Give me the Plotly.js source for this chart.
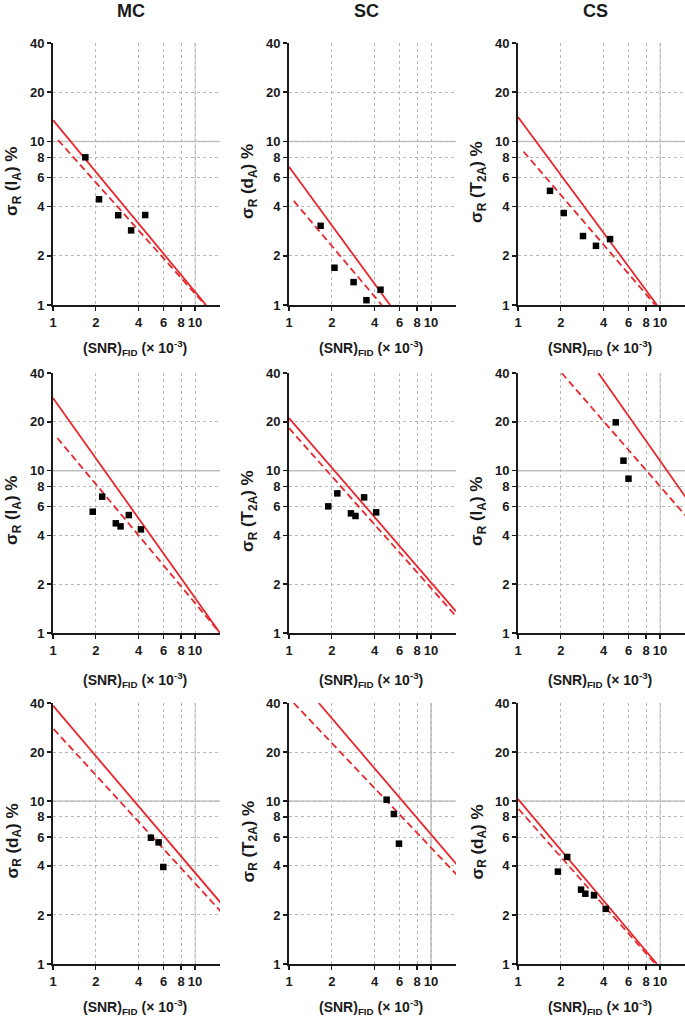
<!DOCTYPE html>
<html>
<head>
<meta charset="utf-8">
<script src="https://cdn.plot.ly/plotly-3.0.1.min.js"></script>
<style>
html,body{margin:0;padding:0;background:#fff;}
#chart{width:685px;height:1016px;}
</style>
</head>
<body>
<div id="chart"></div>
<script>
// ---------- DATA ----------
const colTitles = ["MC", "SC", "CS"];
const xTickVals = [1, 2, 4, 6, 8, 10];
const yTickVals = [1, 2, 4, 6, 8, 10, 20, 40];
const xTitleText = "(SNR)<sub>FID</sub> (× 10<sup>-3</sup>)";

// Row 1
const r1MC_label = "σ<sub>R</sub> (I<sub>A</sub>) %";
const r1MC_snr = [1.69, 2.11, 2.88, 3.55, 4.46];
const r1MC_sigma = [8.0, 4.43, 3.54, 2.86, 3.55];
const r1MC_solidSnr = [1.0, 11.96];
const r1MC_solidSigma = [13.5, 1.0];
const r1MC_dashSnr = [1.085, 11.8];
const r1MC_dashSigma = [10.2, 1.0];

const r1SC_label = "σ<sub>R</sub> (d<sub>A</sub>) %";
const r1SC_snr = [1.67, 2.09, 2.85, 3.51, 4.41];
const r1SC_sigma = [3.05, 1.69, 1.38, 1.07, 1.24];
const r1SC_solidSnr = [1.0, 5.15];
const r1SC_solidSigma = [7.0, 1.0];
const r1SC_dashSnr = [1.08, 4.5];
const r1SC_dashSigma = [4.33, 1.0];

const r1CS_label = "σ<sub>R</sub> (T<sub>2A</sub>) %";
const r1CS_snr = [1.68, 2.10, 2.87, 3.54, 4.45];
const r1CS_sigma = [4.99, 3.65, 2.64, 2.30, 2.53];
const r1CS_solidSnr = [1.0, 9.52];
const r1CS_solidSigma = [14.1, 1.0];
const r1CS_dashSnr = [1.097, 9.27];
const r1CS_dashSigma = [8.66, 1.0];

// Row 2
const r2MC_label = "σ<sub>R</sub> (I<sub>A</sub>) %";
const r2MC_snr = [1.905, 2.22, 2.77, 2.99, 3.42, 4.16];
const r2MC_sigma = [5.59, 6.92, 4.74, 4.54, 5.33, 4.35];
const r2MC_solidSnr = [1.0, 15.0];
const r2MC_solidSigma = [28.05, 1.0];
const r2MC_dashSnr = [1.073, 15.0];
const r2MC_dashSigma = [15.9, 1.0];

const r2SC_label = "σ<sub>R</sub> (T<sub>2A</sub>) %";
const r2SC_snr = [1.89, 2.19, 2.73, 2.94, 3.38, 4.11];
const r2SC_sigma = [6.03, 7.25, 5.46, 5.26, 6.85, 5.54];
const r2SC_solidSnr = [1.0, 15.0];
const r2SC_solidSigma = [21.1, 1.36];
const r2SC_dashSnr = [1.0, 15.0];
const r2SC_dashSigma = [18.3, 1.27];

const r2CS_label = "σ<sub>R</sub> (I<sub>A</sub>) %";
const r2CS_snr = [4.88, 5.53, 6.0];
const r2CS_sigma = [19.86, 11.53, 8.93];
const r2CS_solidSnr = [3.68, 15.3];
const r2CS_solidSigma = [40.0, 6.79];
const r2CS_dashSnr = [2.03, 15.3];
const r2CS_dashSigma = [40.0, 5.23];

// Row 3
const r3MC_label = "σ<sub>R</sub> (d<sub>A</sub>) %";
const r3MC_snr = [4.89, 5.54, 5.98];
const r3MC_sigma = [5.96, 5.58, 3.94];
const r3MC_solidSnr = [1.0, 15.2];
const r3MC_solidSigma = [38.5, 2.37];
const r3MC_dashSnr = [1.01, 15.2];
const r3MC_dashSigma = [27.7, 2.10];

const r3SC_label = "σ<sub>R</sub> (T<sub>2A</sub>) %";
const r3SC_snr = [4.87, 5.48, 5.95];
const r3SC_sigma = [10.2, 8.33, 5.48];
const r3SC_solidSnr = [1.62, 15.2];
const r3SC_solidSigma = [40.0, 4.07];
const r3SC_dashSnr = [1.08, 15.2];
const r3SC_dashSigma = [40.0, 3.53];

const r3CS_label = "σ<sub>R</sub> (d<sub>A</sub>) %";
const r3CS_snr = [1.91, 2.22, 2.78, 2.98, 3.43, 4.15];
const r3CS_sigma = [3.69, 4.54, 2.86, 2.70, 2.64, 2.18];
const r3CS_solidSnr = [1.0, 9.52];
const r3CS_solidSigma = [10.3, 1.0];
const r3CS_dashSnr = [1.01, 9.27];
const r3CS_dashSigma = [8.94, 1.0];

// ---------- BUILD ----------
const panels = [
  [r1MC_label, r1MC_snr, r1MC_sigma, r1MC_solidSnr, r1MC_solidSigma, r1MC_dashSnr, r1MC_dashSigma],
  [r1SC_label, r1SC_snr, r1SC_sigma, r1SC_solidSnr, r1SC_solidSigma, r1SC_dashSnr, r1SC_dashSigma],
  [r1CS_label, r1CS_snr, r1CS_sigma, r1CS_solidSnr, r1CS_solidSigma, r1CS_dashSnr, r1CS_dashSigma],
  [r2MC_label, r2MC_snr, r2MC_sigma, r2MC_solidSnr, r2MC_solidSigma, r2MC_dashSnr, r2MC_dashSigma],
  [r2SC_label, r2SC_snr, r2SC_sigma, r2SC_solidSnr, r2SC_solidSigma, r2SC_dashSnr, r2SC_dashSigma],
  [r2CS_label, r2CS_snr, r2CS_sigma, r2CS_solidSnr, r2CS_solidSigma, r2CS_dashSnr, r2CS_dashSigma],
  [r3MC_label, r3MC_snr, r3MC_sigma, r3MC_solidSnr, r3MC_solidSigma, r3MC_dashSnr, r3MC_dashSigma],
  [r3SC_label, r3SC_snr, r3SC_sigma, r3SC_solidSnr, r3SC_solidSigma, r3SC_dashSnr, r3SC_dashSigma],
  [r3CS_label, r3CS_snr, r3CS_sigma, r3CS_solidSnr, r3CS_solidSigma, r3CS_dashSnr, r3CS_dashSigma]
];

const W = 685, H = 1016;
const colPx = [[53, 220], [289, 456], [518, 685]];
const rowPx = [[43, 305], [373, 633], [703, 964]];
const xTitlePx = [348, 680, 1007];
const FONT = "Liberation Sans, Arial, sans-serif";
const RED = "#e8262b";

const data = [];
const layout = {
  width: W, height: H,
  margin: {l: 0, r: 0, t: 0, b: 0},
  paper_bgcolor: "#fff", plot_bgcolor: "#fff",
  showlegend: false,
  font: {family: FONT, color: "#1a1a1a"},
  annotations: [], shapes: []
};

const py = p => 1 - p / H;
const px = p => p / W;

panels.forEach((pn, i) => {
  const r = Math.floor(i / 3), c = i % 3;
  const n = i + 1;
  const xa = "x" + (n === 1 ? "" : n), ya = "y" + (n === 1 ? "" : n);
  const xKey = "xaxis" + (n === 1 ? "" : n), yKey = "yaxis" + (n === 1 ? "" : n);
  const [label, sx, sy, lx, ly, dx, dy] = pn;

  data.push({x: lx, y: ly, xaxis: xa, yaxis: ya, mode: "lines", type: "scatter",
    line: {color: RED, width: 1.8}, hoverinfo: "skip"});
  data.push({x: dx, y: dy, xaxis: xa, yaxis: ya, mode: "lines", type: "scatter",
    line: {color: RED, width: 1.8, dash: "7px,4px"}, hoverinfo: "skip"});
  data.push({x: sx, y: sy, xaxis: xa, yaxis: ya, mode: "markers", type: "scatter",
    marker: {symbol: "square", size: 6.5, color: "#000"}, cliponaxis: false});

  const common = {
    type: "log", showline: true, linecolor: "#1a1a1a", linewidth: 2,
    ticks: "outside", ticklen: 4, tickwidth: 1.5, tickcolor: "#1a1a1a",
    tickfont: {family: FONT, size: 13, color: "#1a1a1a", weight: "bold"},
    showgrid: true, gridcolor: "#b8b8b8", gridwidth: 1, griddash: "3px,3px",
    zeroline: false, fixedrange: true, mirror: false
  };
  layout[xKey] = Object.assign({}, common, {
    domain: [px(colPx[c][0]), px(colPx[c][1])],
    range: [0, Math.log10(15)], anchor: ya,
    tickmode: "array", tickvals: xTickVals, ticktext: xTickVals.map(String)
  });
  layout[yKey] = Object.assign({}, common, {
    domain: [py(rowPx[r][1]), py(rowPx[r][0])],
    range: [0, Math.log10(40)], anchor: xa,
    tickmode: "array", tickvals: yTickVals, ticktext: yTickVals.map(String)
  });

  // solid reference line at 10 (horizontal)
  layout.shapes.push({type: "line", xref: "paper", yref: ya,
    x0: px(colPx[c][0]), x1: px(colPx[c][1]), y0: 10, y1: 10,
    line: {color: "#c4c4c4", width: 1.5}, layer: "below"});
  // faint solid at x = 10
  if (!(r === 0 && c === 1) && !(r === 1 && c < 2)) {
    layout.shapes.push({type: "line", xref: xa, yref: "paper", x0: 10, x1: 10,
      y0: py(rowPx[r][1]), y1: py(rowPx[r][0]),
      line: {color: (r === 2 && c === 1) ? "#bdbdbd" : "#dcdcdc", width: 1.5}, layer: "below"});
  }

  // y title
  const xc = colPx[c][0] - 40;
  const yc = (rowPx[r][0] + rowPx[r][1]) / 2 + 8;
  layout.annotations.push({text: label, xref: "paper", yref: "paper",
    x: px(xc), y: py(yc), xanchor: "center", yanchor: "middle", textangle: -90, showarrow: false,
    font: {family: FONT, size: 17, color: "#1a1a1a", weight: "bold"}});
  // x title
  layout.annotations.push({text: xTitleText, xref: "paper", yref: "paper",
    x: px((colPx[c][0] + colPx[c][1]) / 2 - 2), y: py(xTitlePx[r]), xanchor: "center", yanchor: "middle",
    showarrow: false, font: {family: FONT, size: 14, color: "#1a1a1a", weight: "bold"}});
});

colTitles.forEach((t, c) => {
  layout.annotations.push({text: t, xref: "paper", yref: "paper",
    x: px((colPx[c][0] + colPx[c][1]) / 2 - 6), y: py(11), xanchor: "center", yanchor: "middle",
    showarrow: false, font: {family: FONT, size: 18, color: "#1a1a1a", weight: "bold"}});
});

Plotly.newPlot("chart", data, layout, {staticPlot: true, displayModeBar: false});
</script>
</body>
</html>
